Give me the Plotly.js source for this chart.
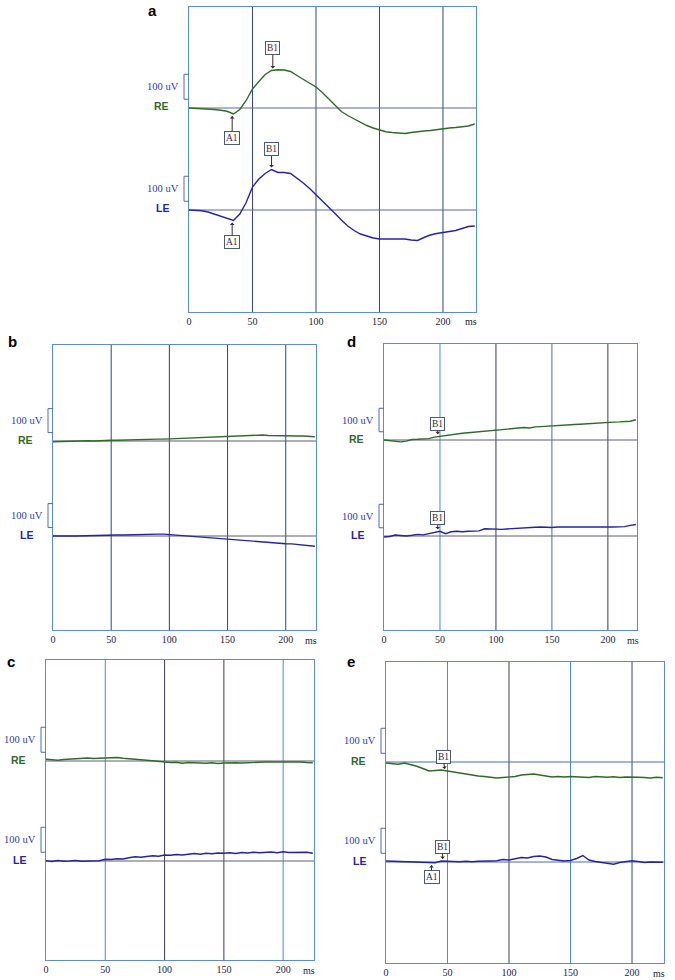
<!DOCTYPE html>
<html>
<head>
<meta charset="utf-8">
<script src="https://cdn.plot.ly/plotly-3.0.1.min.js"></script>
<style>html,body{margin:0;padding:0;background:#fff;}#chart{width:675px;height:980px;}</style>
</head>
<body>
<div id="chart"></div>
<script>
// time samples (ms)
const TIME_MS = [0,5,10,15,20,25,30,35,40,45,50,55,60,65,70,75,80,85,90,95,100,105,110,115,120,125,130,135,140,145,150,155,160,165,170,175,180,185,190,195,200,205,210,215,220,225];
const TICK_VALUES = [0,50,100,150,200];
const TICK_LABELS = ["0","50","100","150","200"];

// Panel a (uV, relative to each trace baseline)
const A_RE = [0,-1,-2,-4,-6,-9,-13,-24,-6,30,76,106,134,150,153,152,146,130,114,98,84,62,38,10,-14,-30,-44,-58,-70,-80,-88,-95,-98,-100,-102,-98,-94,-92,-90,-86,-82,-80,-78,-76,-72,-64];
const A_LE = [0,-1,-3,-8,-16,-24,-32,-42,-16,30,92,124,146,162,150,150,146,128,108,86,62,36,10,-14,-40,-64,-82,-96,-104,-112,-116,-116,-118,-116,-116,-120,-122,-110,-100,-94,-90,-86,-82,-74,-66,-64];
// Panel b
const B_RE = [-3,-2,-1,-2,0,0,1,0,2,2,3,3,4,6,6,7,8,8,8,8,9,10,11,13,14,15,17,18,19,20,21,22,22,23,25,26,25,23,22,21,21,20,21,21,19,18];
const B_LE = [0,1,-1,0,0,1,0,1,2,2,3,4,4,5,6,8,8,8,8,8,6,4,2,0,-2,-4,-7,-9,-11,-13,-15,-17,-19,-21,-23,-25,-27,-28,-30,-31,-32,-33,-35,-37,-40,-43];
// Panel c
const C_RE = [7,5,3,6,8,10,9,12,10,11,13,12,14,11,10,7,5,3,1,-1,-5,-6,-5,-9,-6,-8,-7,-9,-7,-10,-8,-6,-7,-8,-6,-5,-5,-4,-4,-3,-2,-4,-5,-4,-6,-7];
const C_LE = [1,-2,2,-1,0,2,-1,0,-2,1,7,6,9,8,13,17,15,19,21,19,24,23,26,24,28,30,27,31,29,32,31,33,30,34,32,35,33,34,36,33,37,34,35,33,35,31];
// Panel d
const D_RE = [0,-2,-4,-8,-5,2,3,4,6,12,16,19,22,26,29,31,33,36,38,41,43,45,47,49,51,53,51,56,57,59,60,62,63,64,66,67,69,71,73,75,76,76,77,79,80,86];
const D_LE = [-4,-2,4,2,0,3,7,5,10,14,20,10,18,20,18,20,21,22,31,29,27,28,30,32,34,36,35,37,38,36,36,38,39,38,39,39,38,39,40,39,39,38,39,40,45,49];
// Panel e
const E_RE = [-4,-6,-9,-4,-10,-17,-26,-36,-34,-32,-36,-40,-46,-50,-54,-56,-58,-60,-64,-62,-60,-58,-52,-50,-48,-52,-56,-60,-58,-60,-58,-60,-59,-62,-58,-60,-61,-59,-62,-60,-62,-61,-62,-64,-61,-63];
const E_LE = [4,3,1,2,0,1,-1,-4,-3,4,2,0,1,3,1,3,2,4,5,10,8,14,18,16,22,24,20,10,8,4,6,14,26,8,2,-2,-5,-9,-2,0,5,2,-2,0,-1,-1];

const W = 675, H = 980;
const GREEN = '#2f6a2a', BLUE = '#2424a0';
const NAVY = '#34467a', DARK = '#3a3c4c', LIGHT = '#4a8ada';

const panels = [
  {label:'a', re:A_RE, le:A_LE, l:189, r:476, t:7, b:312, reBase:108, leBase:210, bar:25, lx:152, ly:0,
   grid:[NAVY,NAVY,NAVY,NAVY], base:'#5a6a9a',
   marks:[{tr:'re', x:66, text:'B1', ax:0, ay:-22},{tr:'re', x:34, text:'A1', ax:0, ay:24},
          {tr:'le', x:65, text:'B1', ax:0, ay:-20},{tr:'le', x:34, text:'A1', ax:0, ay:22}], markColor:'#5a1a2a'},
  {label:'b', re:B_RE, le:B_LE, l:53, r:316, t:345, b:630, reBase:441, leBase:536, bar:24, lx:12, ly:331,
   grid:[NAVY,DARK,NAVY,NAVY], base:'#5a5e6a', marks:[]},
  {label:'d', re:D_RE, le:D_LE, l:384, r:637, t:344, b:630, reBase:440, leBase:536, bar:23.5, lx:352, ly:331,
   grid:[LIGHT,DARK,'#4a6ab0',DARK], base:'#5a6070',
   marks:[{tr:'re', x:48, text:'B1', ax:0, ay:-12},{tr:'le', x:48, text:'B1', ax:0, ay:-13}], markColor:'#3a2a2a'},
  {label:'c', re:C_RE, le:C_LE, l:46, r:314, t:660, b:960, reBase:761, leBase:861, bar:25, lx:11, ly:651,
   grid:[LIGHT,DARK,DARK,LIGHT], base:'#5a6070', marks:[]},
  {label:'e', re:E_RE, le:E_LE, l:386, r:664, t:662, b:963, reBase:762, leBase:862, bar:25, lx:351, ly:651,
   grid:[LIGHT,DARK,LIGHT,NAVY], base:'#4a6ab0',
   marks:[{tr:'re', x:48, text:'B1', ax:-2, ay:-14},{tr:'le', x:46, text:'B1', ax:0, ay:-14},{tr:'le', x:37, text:'A1', ax:0, ay:14}], markColor:'#2a2a4a'}
];

const data = [], shapes = [], annotations = [];
const layout = {width:W, height:H, margin:{l:0,r:0,t:0,b:0}, paper_bgcolor:'#fff', plot_bgcolor:'#fff', showlegend:false};

panels.forEach((p, i) => {
  const n = i + 1;
  const xa = 'xaxis' + n, ya = 'yaxis' + n;
  const xr = 'x' + n, yr = 'y' + n;
  const uvpx = 100 / p.bar;
  const yMax = (p.b - p.t) * uvpx;
  const reOff = (p.b - p.reBase) * uvpx;
  const leOff = (p.b - p.leBase) * uvpx;
  layout[xa] = {domain:[p.l / W, p.r / W], range:[0, 226], anchor:yr,
    tickvals:TICK_VALUES, ticktext:TICK_LABELS, ticks:'', showgrid:false,
    zeroline:false, showline:true, mirror:true, linecolor:'#5d8ad6', linewidth:1,
    tickfont:{family:'Liberation Serif, serif', size:10, color:'#1c1c40'}, fixedrange:true};
  layout[ya] = {domain:[1 - p.b / H, 1 - p.t / H], range:[0, yMax], anchor:xr,
    showticklabels:false, ticks:'', showgrid:false, zeroline:false, showline:true, mirror:true,
    linecolor:'#5d8ad6', linewidth:1, fixedrange:true};

  TICK_VALUES.slice(1).forEach((tv, k) => {
    shapes.push({type:'line', xref:xr, yref:yr + ' domain', x0:tv, x1:tv, y0:0, y1:1,
      line:{color:p.grid[k], width:1}, layer:'below'});
  });

  data.push({x:TIME_MS, y:p.re.map(v => v + reOff), xaxis:xr, yaxis:yr, type:'scatter', mode:'lines',
    line:{color:GREEN, width:1.4}, hoverinfo:'skip'});
  data.push({x:TIME_MS, y:p.le.map(v => v + leOff), xaxis:xr, yaxis:yr, type:'scatter', mode:'lines',
    line:{color:BLUE, width:1.4}, hoverinfo:'skip'});

  [[reOff,'RE',GREEN],[leOff,'LE',BLUE]].forEach(([off, name, col]) => {
    shapes.push({type:'line', xref:xr, yref:yr, x0:0, x1:226, y0:off, y1:off, line:{color:p.base, width:1}, layer:'below'});
    const xA = p.l / W, xB = (p.l - 5) / W;
    shapes.push({type:'path', xref:'paper', yref:yr,
      path:`M ${xA},${off + 35} L ${xB},${off + 35} L ${xB},${off + 135} L ${xA},${off + 135}`,
      line:{color:'#4d6cb4', width:1}});
    annotations.push({xref:'paper', yref:yr, x:(p.l - 8) / W, y:off + 85, xanchor:'right', yanchor:'middle',
      text:'100 uV', showarrow:false, font:{family:'Liberation Serif, serif', size:10.5, color:'#2c3c9c'}});
    annotations.push({xref:'paper', yref:yr, x:(p.l - 18) / W, y:off + 6, xanchor:'right', yanchor:'middle',
      text:'<b>' + name + '</b>', showarrow:false, font:{family:'Liberation Sans, Arial, sans-serif', size:10.5, color:col}});
  });

  annotations.push({xref:xr, yref:'paper', x:222, y:1 - (p.b + 10) / H, xanchor:'center', yanchor:'middle',
    text:'ms', showarrow:false, font:{family:'Liberation Serif, serif', size:10, color:'#1c1c40'}});
  annotations.push({xref:'paper', yref:'paper', x:p.lx / W, y:1 - p.ly / H, xanchor:'center', yanchor:'top',
    text:'<b>' + p.label + '</b>', showarrow:false, font:{family:'Liberation Sans, Arial, sans-serif', size:15, color:'#000'}});

  p.marks.forEach(m => {
    const arr = m.tr === 're' ? p.re : p.le;
    const off = m.tr === 're' ? reOff : leOff;
    const idx = TIME_MS.indexOf(Math.round(m.x / 5) * 5);
    annotations.push({xref:xr, yref:yr, x:m.x, y:arr[idx] + off, text:m.text, showarrow:true,
      ax:m.ax, ay:m.ay, arrowhead:1, arrowsize:0.8, arrowwidth:1, arrowcolor:'#3a2a2a', standoff:2,
      bgcolor:'#fff', bordercolor:'#4a5a7a', borderwidth:1, borderpad:1,
      font:{family:'Liberation Serif, serif', size:9.5, color:p.markColor}});
  });
});

layout.shapes = shapes;
layout.annotations = annotations;
Plotly.newPlot('chart', data, layout, {staticPlot:true, displayModeBar:false});
</script>
</body>
</html>
